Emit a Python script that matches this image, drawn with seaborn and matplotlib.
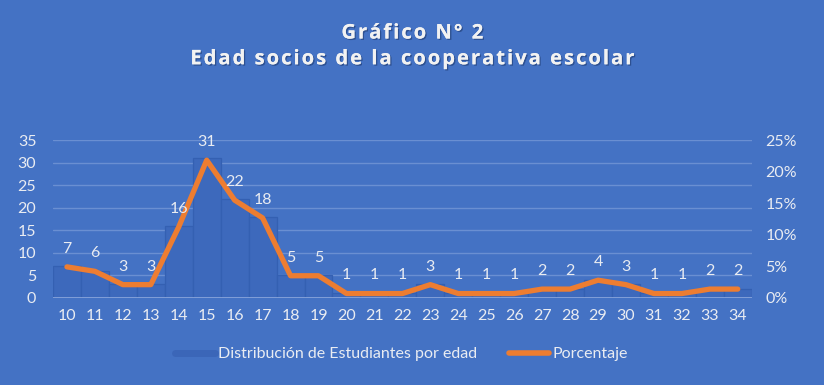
import numpy as np
import pandas as pd
import matplotlib
matplotlib.use('Agg')
import matplotlib.pyplot as plt
import matplotlib.patheffects as pe
from matplotlib.lines import Line2D
import seaborn as sns

# data
ages = [str(a) for a in range(10, 35)]
counts = [7, 6, 3, 3, 16, 31, 22, 18, 5, 5, 1, 1, 1, 3, 1, 1, 1, 2, 2, 4, 3, 1, 1, 2, 2]
left_ticks = [0, 5, 10, 15, 20, 25, 30, 35]
right_ticks = [0, 0.05, 0.10, 0.15, 0.20, 0.25]

bg = '#4472C4'
txt = '#E9ECF2'
orange = '#ED7D31'

df = pd.DataFrame({'edad': ages, 'n': counts})
df['pct'] = df['n'] / df['n'].sum()
df['pos'] = np.arange(len(df))

sns.set_theme(style='white')
plt.rcParams['font.family'] = ['Lato', 'DejaVu Sans']

fig = plt.figure(figsize=(8.24, 3.85), dpi=100, facecolor=bg)
ax = fig.add_axes([0.0643, 0.226, 0.848, 0.41])
ax.set_facecolor(bg)

sns.barplot(data=df, x='edad', y='n', color='#3D69BC', width=1.0,
            edgecolor='#3460B2', linewidth=0.9, saturation=1, ax=ax)

ax.set_xlim(-0.5, len(df) - 0.5)
ax.set_ylim(0, 35)
ax.set_yticks(left_ticks)
ax.yaxis.grid(True, color='#6A8FD2', linewidth=1)
ax.set_axisbelow(True)
ax.set_xlabel('')
ax.set_ylabel('')
for s in ax.spines.values():
    s.set_visible(False)
ax.axhline(0, color='#8DA9DD', linewidth=1.2, zorder=5)
ax.tick_params(axis='both', length=0, colors=txt, labelsize=11.5)
ax.tick_params(axis='x', pad=8)
ax.tick_params(axis='y', pad=12)

ax2 = ax.twinx()
sns.lineplot(data=df, x='pos', y='pct', color=orange, linewidth=3.8, ax=ax2,
             solid_joinstyle='round', solid_capstyle='round', zorder=6)
ax2.set_ylim(0, 0.25)
ax2.set_yticks(right_ticks)
ax2.set_yticklabels([f'{int(round(t * 100))}%' for t in right_ticks])
ax2.set_ylabel('')
ax2.set_xlabel('')
for s in ax2.spines.values():
    s.set_visible(False)
ax2.tick_params(axis='y', length=0, colors=txt, labelsize=11.5, pad=10)
ax2.set_xlim(-0.5, len(df) - 0.5)

for pos, n, pct in zip(df['pos'], df['n'], df['pct']):
    ax2.annotate(str(n), (pos, pct), xytext=(0, 8), textcoords='offset points',
                 ha='center', va='bottom', color=txt, fontsize=11.5, zorder=8)

# title with a little letter spacing (hair spaces)
def spaced(s):
    return '\u200a'.join(s)

shadow = [pe.withSimplePatchShadow(offset=(1, -1), shadow_rgbFace='#1E3A70', alpha=0.6), pe.Normal()]
fig.text(0.5, 0.913, spaced('Gráfico N° 2'), ha='center', va='center', color='#F2F2F2',
         fontsize=14.5, fontweight='bold', family=['Open Sans', 'DejaVu Sans'], path_effects=shadow)
fig.text(0.5, 0.846, spaced('Edad socios de la cooperativa escolar'), ha='center', va='center',
         color='#F2F2F2', fontsize=14.5, fontweight='bold', family=['Open Sans', 'DejaVu Sans'],
         path_effects=shadow)

handles = [Line2D([], [], color='#3B66B8', linewidth=5),
           Line2D([], [], color=orange, linewidth=4, solid_capstyle='round')]
leg = fig.legend(handles, ['Distribución de Estudiantes por edad', 'Porcentaje'],
                 loc='center', bbox_to_anchor=(0.487, 0.08), ncol=2, frameon=False,
                 fontsize=11.5, labelcolor=txt, handlelength=2.5, handletextpad=0.2,
                 columnspacing=2.0)

fig.savefig('out.png', dpi=100, facecolor=bg)
